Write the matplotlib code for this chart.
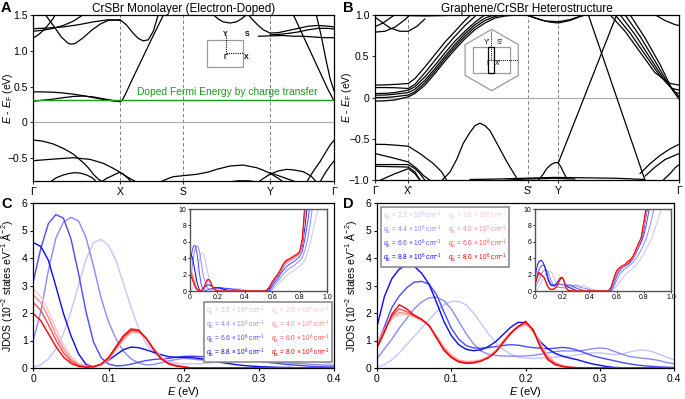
import matplotlib
matplotlib.use("Agg")
import matplotlib.pyplot as plt
from matplotlib.lines import Line2D
from matplotlib.patches import Rectangle, Polygon

plt.rcParams['font.family'] = ['Liberation Sans', 'DejaVu Sans']
plt.rcParams['mathtext.fontset'] = 'custom'
plt.rcParams['mathtext.rm'] = 'Liberation Sans'
plt.rcParams['mathtext.it'] = 'Liberation Sans:italic'
plt.rcParams['axes.linewidth'] = 0.9
plt.rcParams['xtick.major.size'] = 2.5
plt.rcParams['ytick.major.size'] = 2.5
plt.rcParams['xtick.major.width'] = 0.8
plt.rcParams['ytick.major.width'] = 0.8

W, H = 685, 399

# ---------------- band structure A: CrSBr monolayer ----------------
A_KTICKS = [0, 0.867, 1.497, 2.367, 3.01]
A_KLABELS = ['Γ', 'X', 'S', 'Y', 'Γ']
A_FERMI = 0.315

A_BANDS = [
    ([0, 0.1, 0.2, 0.3, 0.4, 0.5, 0.6, 0.7, 0.8, 0.867, 0.89, 0.92, 0.96, 1.0, 1.1, 1.2, 1.31],
     [0.426, 0.425, 0.421, 0.41, 0.394, 0.372, 0.347, 0.32, 0.30, 0.29, 0.31, 0.39, 0.51, 0.63, 0.92, 1.21, 1.52]),
    ([0, 0.1, 0.2, 0.3, 0.4, 0.5, 0.6, 0.7, 0.8, 0.867],
     [0.296, 0.31, 0.325, 0.345, 0.362, 0.368, 0.355, 0.33, 0.305, 0.29]),
    ([0, 0.05, 0.1, 0.15, 0.2, 0.22], [1.176, 1.22, 1.28, 1.36, 1.45, 1.5]),
    ([0, 0.15, 0.3, 0.45, 0.6, 0.75, 0.867], [1.305, 1.315, 1.33, 1.36, 1.40, 1.43, 1.42]),
    ([0, 0.1, 0.2, 0.3, 0.4, 0.5], [1.27, 1.285, 1.31, 1.35, 1.41, 1.5]),
    ([0.12, 0.2, 0.28, 0.35, 0.383, 0.42, 0.5, 0.58, 0.67, 0.75, 0.867],
     [1.5, 1.35, 1.19, 1.10, 1.09, 1.10, 1.18, 1.28, 1.37, 1.42, 1.43]),
    ([0.867, 0.93, 1.0, 1.05, 1.1, 1.15, 1.2, 1.25], [1.43, 1.36, 1.24, 1.17, 1.135, 1.15, 1.27, 1.5]),
    ([1.8, 1.85, 1.9, 1.967, 2.03, 2.08, 2.133], [1.5, 1.44, 1.40, 1.384, 1.40, 1.44, 1.5]),
    ([2.15, 2.2, 2.25, 2.3, 2.367, 2.45, 2.55, 2.65, 2.75, 2.85, 2.95, 3.01],
     [1.5, 1.42, 1.35, 1.29, 1.245, 1.25, 1.28, 1.31, 1.34, 1.35, 1.34, 1.33]),
    ([2.367, 2.45, 2.55, 2.65, 2.75, 2.85, 2.95, 3.01], [1.22, 1.225, 1.24, 1.26, 1.29, 1.31, 1.31, 1.30]),
    ([2.25, 2.367, 2.5, 2.6, 2.7, 2.8, 2.9, 3.01], [1.20, 1.205, 1.21, 1.20, 1.20, 1.19, 1.18, 1.18]),
    ([2.6, 2.7, 2.8, 2.9, 2.95, 3.0, 3.01], [1.5, 1.2, 0.9, 0.6, 0.45, 0.32, 0.31]),
    ([2.83, 2.88, 2.93, 2.97, 3.01], [1.5, 1.2, 0.85, 0.6, 0.43]),
    ([0, 0.1, 0.2, 0.3, 0.4, 0.5, 0.55, 0.6, 0.65, 0.7],
     [-0.245, -0.262, -0.30, -0.361, -0.44, -0.56, -0.63, -0.72, -0.79, -0.83]),
    ([0, 0.167, 0.4, 0.567, 0.7, 0.8, 0.867, 0.933, 1.033],
     [-0.532, -0.514, -0.491, -0.514, -0.569, -0.639, -0.694, -0.755, -0.83]),
    ([0.167, 0.23, 0.3, 0.36, 0.417, 0.47, 0.533, 0.59, 0.633],
     [-0.83, -0.77, -0.731, -0.71, -0.699, -0.705, -0.731, -0.77, -0.83]),
    ([0.68, 0.73, 0.77, 0.82, 0.867, 0.9, 0.95, 0.98], [-0.83, -0.78, -0.755, -0.72, -0.694, -0.72, -0.78, -0.83]),
    ([1.267, 1.35, 1.4, 1.497, 1.633, 1.75, 1.833, 1.967, 2.1, 2.233, 2.3, 2.367, 2.45, 2.5],
     [-0.83, -0.78, -0.755, -0.741, -0.722, -0.69, -0.653, -0.606, -0.593, -0.63, -0.665, -0.708, -0.778, -0.83]),
    ([2.25, 2.3, 2.367, 2.45, 2.533, 2.6, 2.7, 2.78, 2.833],
     [-0.83, -0.78, -0.72, -0.675, -0.653, -0.66, -0.685, -0.75, -0.83]),
    ([2.367, 2.45, 2.55, 2.63], [-0.70, -0.74, -0.79, -0.83]),
    ([2.733, 2.8, 2.867, 2.93, 2.97, 3.01], [-0.83, -0.68, -0.546, -0.40, -0.31, -0.245]),
    ([2.867, 2.92, 2.97, 3.01], [-0.83, -0.70, -0.60, -0.532]),
    ([1.95, 2.05, 2.15, 2.25], [-0.83, -0.812, -0.812, -0.83]),
]

# ---------------- band structure B: graphene/CrSBr ----------------
B_KTICKS = [0, 0.333, 1.527, 1.833, 3.04]
B_KLABELS = ['Γ', "X'", "S'", 'Y', 'Γ']

B_BANDS = [
    ([0, 0.1, 0.2, 0.333, 0.4, 0.5, 0.6, 0.7, 0.8, 0.9, 0.96],
     [0.15, 0.152, 0.158, 0.169, 0.23, 0.37, 0.52, 0.67, 0.80, 0.93, 1.0]),
    ([0, 0.1, 0.2, 0.333, 0.4, 0.5, 0.6, 0.7, 0.8, 0.9, 1.0],
     [0.12, 0.12, 0.118, 0.109, 0.16, 0.30, 0.45, 0.60, 0.74, 0.87, 0.98]),
    ([0, 0.1, 0.2, 0.333, 0.4, 0.5, 0.6, 0.7, 0.8, 0.9, 1.0, 1.1],
     [0.048, 0.05, 0.06, 0.089, 0.13, 0.25, 0.39, 0.54, 0.68, 0.80, 0.91, 1.0]),
    ([0, 0.1, 0.2, 0.333, 0.4, 0.5, 0.6, 0.7, 0.8, 0.9, 1.0, 1.1, 1.2],
     [0.028, 0.03, 0.04, 0.06, 0.10, 0.21, 0.35, 0.50, 0.64, 0.77, 0.88, 0.96, 1.0]),
    ([0, 0.1, 0.2, 0.333, 0.4, 0.5, 0.6, 0.7, 0.8, 0.9, 1.0, 1.1, 1.2, 1.3],
     [0.0, 0.0, 0.01, 0.03, 0.07, 0.18, 0.32, 0.47, 0.61, 0.74, 0.85, 0.93, 0.98, 1.0]),
    ([0, 0.1, 0.2, 0.333, 0.4, 0.5, 0.6, 0.7, 0.8, 0.9, 1.0, 1.1, 1.2, 1.3, 1.4, 1.527, 1.65, 1.75, 1.833, 1.95, 2.1],
     [-0.044, -0.04, -0.03, 0.008, 0.05, 0.15, 0.29, 0.44, 0.58, 0.71, 0.82, 0.90, 0.96, 0.985, 0.995, 0.995,
      0.94, 0.91, 0.90, 0.93, 1.0]),
    ([1.5, 1.6, 1.7, 1.833, 1.95, 2.05, 2.12], [1.0, 0.96, 0.925, 0.915, 0.94, 0.98, 1.0]),
    ([0, 0.1, 0.2, 0.3, 0.35], [0.79, 0.80, 0.85, 0.94, 1.0]),
    ([0, 0.08, 0.15, 0.2], [0.855, 0.90, 0.96, 1.0]),
    ([0, 0.08, 0.15, 0.25, 0.333, 0.42, 0.5], [0.97, 0.90, 0.84, 0.80, 0.80, 0.86, 0.95]),
    ([0.3, 0.5, 0.7, 0.9], [0.99, 0.985, 0.99, 1.0]),
    ([1.833, 1.9, 2.0, 2.1, 2.2, 2.3, 2.42], [-0.79, -0.585, -0.28, 0.027, 0.334, 0.641, 1.01]),
    ([2.133, 2.25, 2.4, 2.55, 2.7], [1.0, 0.59, 0.06, -0.47, -1.0]),
    ([2.35, 2.5, 2.65, 2.8, 2.95, 3.04], [1.0, 0.80, 0.55, 0.30, 0.17, 0.15]),
    ([2.4, 2.55, 2.7, 2.85, 2.97, 3.04], [1.0, 0.78, 0.52, 0.26, 0.11, 0.09]),
    ([2.45, 2.6, 2.75, 2.9, 3.0, 3.04], [1.0, 0.76, 0.48, 0.20, 0.06, 0.05]),
    ([2.5, 2.65, 2.8, 2.93, 3.04], [1.0, 0.74, 0.44, 0.17, 0.01]),
    ([2.55, 2.7, 2.85, 2.97, 3.04], [1.0, 0.72, 0.40, 0.10, -0.02]),
    ([2.8, 2.9, 3.0, 3.04], [1.0, 0.93, 0.88, 0.87]),
    ([0.67, 0.75, 0.82, 0.88, 0.95, 1.0, 1.05, 1.1, 1.15, 1.22, 1.32, 1.43],
     [-1.0, -0.90, -0.74, -0.56, -0.42, -0.34, -0.31, -0.34, -0.40, -0.556, -0.78, -1.0]),
    ([1.633, 1.68, 1.717, 1.76, 1.8, 1.833, 1.86, 1.883, 1.917],
     [-1.0, -0.93, -0.859, -0.81, -0.786, -0.79, -0.84, -0.90, -0.98]),
    ([0, 0.1, 0.2, 0.333, 0.45, 0.583, 0.667, 0.717],
     [-0.565, -0.567, -0.575, -0.589, -0.677, -0.798, -0.899, -1.0]),
    ([0, 0.15, 0.333, 0.42, 0.483, 0.55], [-0.677, -0.72, -0.778, -0.86, -0.94, -1.0]),
    ([0, 0.15, 0.333, 0.4, 0.45, 0.5], [-0.81, -0.81, -0.81, -0.86, -0.92, -1.0]),
    ([0, 0.15, 0.333, 0.4, 0.45], [-0.83, -0.835, -0.84, -0.9, -1.0]),
    ([0.05, 0.2, 0.333, 0.4, 0.45], [-1.0, -0.92, -0.86, -0.92, -1.0]),
    ([0.95, 1.2, 1.5, 1.8, 2.1, 2.4, 2.7], [-0.99, -0.985, -0.975, -0.965, -0.97, -0.975, -0.99]),
    ([1.3, 1.5, 1.8, 2.0], [-1.0, -0.985, -0.975, -0.985]),
    ([2.65, 2.75, 2.85, 2.95, 3.04], [-0.92, -0.80, -0.70, -0.62, -0.565]),
    ([2.7, 2.8, 2.9, 3.04], [-0.95, -0.84, -0.75, -0.677]),
    ([2.88, 2.95, 3.0, 3.04], [-1.0, -0.92, -0.85, -0.81]),
]

# ---------------- JDOS ----------------
E_LO = [round(0.01 * i, 2) for i in range(41)]
E_HI = [0.45, 0.50, 0.54, 0.56, 0.58, 0.60, 0.62, 0.64, 0.66, 0.68, 0.70, 0.72,
        0.74, 0.76, 0.78, 0.80, 0.82, 0.84, 0.86, 0.88, 0.90, 0.92, 0.94, 0.96]

QB_LABELS = ['2.2', '4.4', '6.6', '8.8']
QA_LABELS = ['2.0', '4.0', '6.0', '8.0']
BLUES = ['#c4c4ff', '#8a8aff', '#4a4aff', '#0a0af0']
REDS = ['#ffc4c4', '#ff8c8c', '#ff4c4c', '#f00000']

Z = [0] * 20

C_B1 = [0.03, 0.12, 0.33, 0.70, 1.25, 2.05, 3.00, 3.95, 4.55, 4.68, 4.45,
        3.90, 3.05, 2.20, 1.45, 0.88, 0.55, 0.35, 0.23, 0.17, 0.15,
        0.15, 0.15, 0.17, 0.20, 0.23, 0.25, 0.27, 0.28, 0.27, 0.25,
        0.24, 0.25, 0.27, 0.30, 0.31, 0.30, 0.27, 0.22, 0.17, 0.12]
C_B2 = [1.00, 2.05, 3.55, 4.72, 5.30, 5.48, 5.35, 4.75, 3.70, 2.55, 1.68,
        1.05, 0.60, 0.33, 0.18, 0.11, 0.13, 0.19, 0.26, 0.31, 0.35,
        0.33, 0.30, 0.28, 0.28, 0.29, 0.30, 0.31, 0.32, 0.31, 0.28,
        0.25, 0.22, 0.20, 0.18, 0.16, 0.15, 0.13, 0.12, 0.10, 0.08]
C_B3 = [3.15, 4.35, 5.25, 5.58, 5.45, 4.70, 3.45, 2.05, 0.95, 0.38, 0.14,
        0.08, 0.09, 0.14, 0.21, 0.27, 0.31, 0.33, 0.35, 0.39, 0.42,
        0.43, 0.42, 0.40, 0.38, 0.35, 0.33, 0.31, 0.30, 0.28, 0.25,
        0.21, 0.18, 0.15, 0.12, 0.10, 0.08, 0.06, 0.05, 0.04, 0.03]
C_B4 = [4.56, 4.42, 3.92, 2.97, 1.99, 1.18, 0.52, 0.13, 0.04, 0.12, 0.28,
        0.48, 0.67, 0.76, 0.74, 0.66, 0.57, 0.48, 0.41, 0.39, 0.39,
        0.38, 0.35, 0.30, 0.25, 0.20, 0.16, 0.12, 0.09, 0.07, 0.05,
        0.04, 0.03, 0.02, 0.02, 0.01, 0.01, 0.01, 0.01, 0.01, 0.01]
C_R1 = [2.86, 2.60, 2.08, 1.42, 0.85, 0.42, 0.17, 0.07, 0.05, 0.11, 0.30,
        0.66, 1.03, 1.27, 1.29, 1.08, 0.72, 0.40, 0.20, 0.10, 0.05] + Z
C_R2 = [2.66, 2.38, 1.85, 1.22, 0.70, 0.33, 0.13, 0.05, 0.05, 0.12, 0.32,
        0.70, 1.08, 1.32, 1.32, 1.08, 0.70, 0.37, 0.18, 0.09, 0.05] + Z
C_R3 = [2.38, 2.10, 1.58, 1.02, 0.56, 0.25, 0.09, 0.04, 0.05, 0.13, 0.35,
        0.74, 1.13, 1.37, 1.35, 1.08, 0.68, 0.35, 0.16, 0.08, 0.04] + Z
C_R4 = [1.98, 1.72, 1.25, 0.78, 0.40, 0.17, 0.06, 0.03, 0.05, 0.14, 0.38,
        0.78, 1.18, 1.42, 1.38, 1.08, 0.66, 0.33, 0.15, 0.07, 0.04] + Z

C_B1_HI = [0.03, 0, 0, 0, 0, 0.1, 0.5, 0.8, 1.1, 1.5, 1.8, 2.1, 2.3, 2.5, 2.8, 3.0, 3.3, 3.8, 4.8, 6.0, 7.5, 9.0, 10.5, 12]
C_B2_HI = [0, 0, 0, 0, 0, 0.3, 0.8, 1.2, 1.6, 2.0, 2.4, 2.7, 2.9, 3.1, 3.4, 3.7, 4.1, 5.0, 6.5, 8.5, 11, 12, 12, 12]
C_B3_HI = [0, 0, 0, 0, 0.1, 0.6, 1.1, 1.5, 2.0, 2.5, 2.9, 3.2, 3.4, 3.6, 3.9, 4.2, 4.8, 6.5, 8.5, 11, 12, 12, 12, 12]
C_B4_HI = [0, 0, 0, 0.05, 0.3, 0.9, 1.4, 1.8, 2.3, 2.9, 3.4, 3.6, 3.8, 4.0, 4.3, 4.6, 5.5, 8.0, 11, 12, 12, 12, 12, 12]
C_R1_HI = [0, 0, 0, 0.1, 0.45, 1.0, 1.5, 1.9, 2.4, 3.0, 3.4, 3.6, 3.8, 4.0, 4.2, 4.5, 5.8, 9.5, 12, 12, 12, 12, 12, 12]
C_R2_HI = [0, 0, 0, 0.1, 0.5, 1.05, 1.55, 1.95, 2.5, 3.1, 3.5, 3.7, 3.9, 4.1, 4.3, 4.6, 6.0, 10, 12, 12, 12, 12, 12, 12]
C_R3_HI = [0, 0, 0, 0.1, 0.5, 1.1, 1.6, 2.0, 2.6, 3.2, 3.6, 3.8, 4.0, 4.2, 4.4, 4.7, 6.2, 10.5, 12, 12, 12, 12, 12, 12]
C_R4_HI = [0, 0, 0, 0.1, 0.5, 1.1, 1.6, 2.0, 2.6, 3.3, 3.7, 3.9, 4.1, 4.3, 4.5, 4.8, 6.5, 11, 12, 12, 12, 12, 12, 12]

D_B1 = [0.02, 0.12, 0.30, 0.55, 0.85, 1.15, 1.45, 1.75, 2.05, 2.30, 2.42,
        2.42, 2.30, 2.00, 1.62, 1.25, 0.92, 0.68, 0.50, 0.40, 0.36,
        0.35, 0.36, 0.38, 0.40, 0.42, 0.44, 0.48, 0.52, 0.55, 0.55,
        0.52, 0.48, 0.50, 0.58, 0.64, 0.65, 0.60, 0.50, 0.40, 0.30]
D_B2 = [0.33, 0.70, 1.05, 1.45, 1.80, 2.15, 2.40, 2.55, 2.58, 2.45, 2.15,
        1.70, 1.25, 0.88, 0.62, 0.50, 0.46, 0.44, 0.43, 0.43, 0.44,
        0.46, 0.50, 0.55, 0.60, 0.62, 0.62, 0.62, 0.65, 0.70, 0.73,
        0.70, 0.60, 0.50, 0.42, 0.38, 0.35, 0.32, 0.27, 0.20, 0.15]
D_B3 = [0.85, 1.50, 2.20, 2.62, 2.92, 3.12, 3.15, 3.05, 2.68, 2.05, 1.45,
        1.05, 0.82, 0.73, 0.72, 0.74, 0.78, 0.82, 0.85, 0.83, 0.78,
        0.74, 0.72, 0.70, 0.72, 0.75, 0.72, 0.65, 0.55, 0.45, 0.38,
        0.32, 0.26, 0.20, 0.15, 0.11, 0.08, 0.06, 0.04, 0.03, 0.02]
D_B4 = [1.50, 2.60, 3.25, 3.60, 3.73, 3.70, 3.45, 3.05, 2.40, 1.70, 1.18,
        0.85, 0.68, 0.63, 0.66, 0.78, 0.96, 1.22, 1.48, 1.66, 1.65,
        1.35, 0.95, 0.70, 0.53, 0.43, 0.36, 0.30, 0.22, 0.15, 0.10,
        0.05, 0.02, 0.01, 0, 0, 0, 0, 0, 0, 0]
D_R1 = [0.86, 1.42, 1.80, 1.93, 1.93, 1.85, 1.72, 1.53, 1.18, 0.78, 0.50,
        0.30, 0.25, 0.26, 0.30, 0.42, 0.65, 1.00, 1.28, 1.48, 1.55,
        1.40, 0.90, 0.45, 0.20, 0.10, 0.04, 0.01, 0, 0, 0,
        0, 0, 0, 0, 0, 0, 0, 0, 0, 0]
D_R2 = [0.82, 1.40, 1.85, 2.02, 1.98, 1.88, 1.75, 1.55, 1.15, 0.72, 0.45,
        0.27, 0.22, 0.23, 0.28, 0.40, 0.62, 0.97, 1.28, 1.50, 1.60,
        1.40, 0.85, 0.40, 0.18, 0.08, 0.03, 0.01, 0, 0, 0,
        0, 0, 0, 0, 0, 0, 0, 0, 0, 0]
D_R3 = [0.78, 1.35, 1.90, 2.15, 2.05, 1.90, 1.76, 1.55, 1.12, 0.68, 0.40,
        0.24, 0.19, 0.20, 0.26, 0.38, 0.60, 0.95, 1.28, 1.52, 1.65,
        1.40, 0.80, 0.35, 0.15, 0.06, 0.02, 0.01, 0, 0, 0,
        0, 0, 0, 0, 0, 0, 0, 0, 0, 0]
D_R4 = [0.73, 1.30, 1.95, 2.30, 2.15, 1.92, 1.78, 1.55, 1.10, 0.65, 0.38,
        0.22, 0.17, 0.18, 0.25, 0.37, 0.58, 0.92, 1.25, 1.50, 1.70,
        1.40, 0.75, 0.30, 0.12, 0.05, 0.02, 0.01, 0, 0, 0,
        0, 0, 0, 0, 0, 0, 0, 0, 0, 0]

D_B1_HI = [0.12, 0.02, 0, 0, 0.2, 0.6, 1.1, 1.5, 1.9, 2.2, 2.5, 2.8, 3.1, 3.5, 4.0, 4.6, 5.2, 5.8, 6.5, 7.5, 8.5, 9.5, 10.5, 12]
D_B2_HI = [0.02, 0, 0, 0, 0.5, 1.3, 2.0, 2.4, 2.7, 2.9, 3.2, 3.5, 3.9, 4.4, 5.0, 5.7, 6.5, 7.6, 8.9, 10.5, 12, 12, 12, 12]
D_B3_HI = [0, 0, 0, 0.1, 0.9, 1.8, 2.4, 2.8, 3.0, 3.2, 3.5, 3.9, 4.5, 5.2, 5.9, 6.8, 8.2, 10, 11.5, 12, 12, 12, 12, 12]
D_B4_HI = [0, 0, 0, 0.3, 1.3, 2.2, 2.6, 2.9, 3.1, 3.3, 3.6, 4.0, 4.7, 5.5, 6.0, 7.5, 9.5, 11, 12, 12, 12, 12, 12, 12]
D_R1_HI = [0, 0, 0, 0.35, 1.3, 2.2, 2.6, 2.9, 3.1, 3.4, 3.7, 4.0, 4.7, 5.5, 6.2, 7.8, 9.8, 12, 12, 12, 12, 12, 12, 12]
D_R2_HI = [0, 0, 0, 0.4, 1.4, 2.3, 2.7, 3.0, 3.1, 3.5, 3.7, 4.1, 4.8, 5.6, 6.3, 8.0, 10, 12, 12, 12, 12, 12, 12, 12]
D_R3_HI = [0, 0, 0, 0.45, 1.5, 2.4, 2.8, 3.0, 3.2, 3.5, 3.8, 4.2, 4.9, 5.7, 6.4, 8.3, 10.2, 12, 12, 12, 12, 12, 12, 12]
D_R4_HI = [0, 0, 0, 0.5, 1.6, 2.5, 2.8, 3.1, 3.2, 3.6, 3.8, 4.2, 5.0, 5.8, 6.5, 8.5, 10.5, 12, 12, 12, 12, 12, 12, 12]

C_BLUE = [(C_B1, C_B1_HI), (C_B2, C_B2_HI), (C_B3, C_B3_HI), (C_B4, C_B4_HI)]
C_RED = [(C_R1, C_R1_HI), (C_R2, C_R2_HI), (C_R3, C_R3_HI), (C_R4, C_R4_HI)]
D_BLUE = [(D_B1, D_B1_HI), (D_B2, D_B2_HI), (D_B3, D_B3_HI), (D_B4, D_B4_HI)]
D_RED = [(D_R1, D_R1_HI), (D_R2, D_R2_HI), (D_R3, D_R3_HI), (D_R4, D_R4_HI)]


def px_axes(fig, x0, y0, x1, y1):
    return fig.add_axes([x0 / W, 1 - y1 / H, (x1 - x0) / W, (y1 - y0) / H])


def draw_bands(ax, bands, kticks, klabels, ylim, yticks, ylabels, label_x):
    for k, e in bands:
        ax.plot(k, e, color='black', lw=0.9, solid_capstyle='round', zorder=3)
    for kk in kticks[1:-1]:
        ax.axvline(kk, color='#808080', lw=0.7, ls=(0, (3.5, 2.5)), zorder=1)
    ax.axhline(0, color='#b0b0b0', lw=0.9, zorder=1)
    ax.set_xlim(kticks[0], kticks[-1])
    ax.set_ylim(*ylim)
    ax.set_xticks(kticks)
    ax.set_xticklabels(klabels, fontsize=7.5)
    ax.set_yticks(yticks)
    ax.set_yticklabels(ylabels, fontsize=7.5)
    ax.tick_params(pad=1.5, color='#333333')
    ax.set_ylabel(r'$E$ - $E_\mathrm{F}$ (eV)', fontsize=7.5)
    ax.yaxis.set_label_coords(label_x, 0.5)


def draw_jdos(ax, blue, red, main):
    lw = 1.0 if main else 0.7
    for (lo, hi), c in zip(blue, BLUES):
        ax.plot(E_LO + E_HI, lo + hi, color=c, lw=lw)
    for (lo, hi), c in zip(red, REDS):
        ax.plot(E_LO + E_HI, lo + hi, color=c, lw=lw)
    if not main:
        ax.set_xlim(0, 1)
        ax.set_ylim(0, 10)
        ax.set_xticks([0, 0.2, 0.4, 0.6, 0.8, 1.0])
        ax.set_xticklabels(['0', '0.2', '0.4', '0.6', '0.8', '1.0'], fontsize=5)
        ax.set_yticks([0, 2, 4, 6, 8, 10])
        ax.set_yticklabels(['0', '2', '4', '6', '8', '10'], fontsize=5)
        ax.tick_params(length=1.5, pad=1, width=0.6)
        for s in ax.spines.values():
            s.set_color('#555555')
            s.set_linewidth(1.0)
        return
    ax.set_xlim(0, 0.4)
    ax.set_ylim(0, 6)
    ax.set_xticks([0, 0.1, 0.2, 0.3, 0.4])
    ax.set_xticklabels(['0', '0.1', '0.2', '0.3', '0.4'], fontsize=7.5)
    ax.set_yticks(range(7))
    ax.set_yticklabels([str(v) for v in range(7)], fontsize=7.5)
    ax.tick_params(pad=1.5)
    ax.set_xlabel(r'$E$ (eV)', fontsize=8, labelpad=1)
    ax.set_ylabel('JDOS (10$^{-2}$ states eV$^{-1}$ Å$^{-2}$)', fontsize=7.5)
    ax.yaxis.set_label_coords(-0.06, 0.5)


def add_legend(ax, loc, anchor):
    handles = [Line2D([], [], lw=0) for _ in range(8)]
    labels = [r'$q_\mathrm{b}$ = %s × 10$^6$ cm$^{-1}$' % q for q in QB_LABELS] + \
             [r'$q_\mathrm{a}$ = %s × 10$^6$ cm$^{-1}$' % q for q in QA_LABELS]
    leg = ax.legend(handles, labels, ncol=2, loc=loc, bbox_to_anchor=anchor,
                    handlelength=0, handletextpad=0, columnspacing=0.9,
                    labelspacing=0.12, borderpad=0.35, borderaxespad=0,
                    fontsize=4.8, fancybox=False, framealpha=1)
    leg.get_frame().set_edgecolor('#8c8c8c')
    leg.get_frame().set_linewidth(1.2)
    for t, c in zip(leg.get_texts(), BLUES + REDS):
        t.set_color(c)


fig = plt.figure(figsize=(W / 100, H / 100), dpi=100)

# A
axA = px_axes(fig, 33.3, 14.7, 334.3, 181)
draw_bands(axA, A_BANDS, A_KTICKS, A_KLABELS, (-0.815, 1.5),
           [-0.5, 0, 0.5, 1.0, 1.5], ['−0.5', '0', '0.5', '1.0', '1.5'], -0.062)
axA.axhline(A_FERMI, color='#1a9a1a', lw=1.0, zorder=4)
axA.text(1.94, 0.42, 'Doped Fermi Energy by charge transfer', color='#1a9a1a',
         fontsize=7.4, ha='center', va='center')
axA.set_title('CrSBr Monolayer (Electron-Doped)', fontsize=8.5, pad=2)

# B
axB = px_axes(fig, 375, 14.7, 679, 180.3)
draw_bands(axB, B_BANDS, B_KTICKS, B_KLABELS, (-1.0, 1.0),
           [-1.0, -0.5, 0, 0.5, 1.0], ['−1.0', '−0.5', '0', '0.5', '1.0'], -0.07)
axB.set_title('Graphene/CrSBr Heterostructure', fontsize=8.5, pad=2)

# C
axC = px_axes(fig, 33.3, 203, 334.3, 368)
draw_jdos(axC, C_BLUE, C_RED, main=True)
add_legend(axC, 'lower right', (0.993, 0.035))
axCi = px_axes(fig, 190, 209, 327, 291)
draw_jdos(axCi, C_BLUE, C_RED, main=False)

# D
axD = px_axes(fig, 377, 203, 674, 368)
draw_jdos(axD, D_BLUE, D_RED, main=True)
add_legend(axD, 'upper left', (0.012, 0.975))
axDi = px_axes(fig, 535, 209, 671, 291)
draw_jdos(axDi, D_BLUE, D_RED, main=False)

# Brillouin-zone sketches (pixel overlay)
ov = fig.add_axes([0, 0, 1, 1], zorder=10)
ov.set_xlim(0, W)
ov.set_ylim(H, 0)
ov.axis('off')
ov.patch.set_alpha(0)
ov.add_patch(Rectangle((207.3, 40), 36, 27.3, fill=False, ec='#9a9a9a', lw=0.9))
ov.plot([225.7, 225.7], [35, 53.3], color='black', lw=0.8, ls=(0, (1, 1)))
ov.plot([225.7, 243.3], [53.3, 53.3], color='black', lw=0.8, ls=(0, (1, 1)))
for s, x, y in [('Y', 225.7, 34.3), ('S', 246.7, 34.3), ('Γ', 226, 57.5), ('X', 246.7, 57.5)]:
    ov.text(x, y, s, fontsize=5, weight='bold', ha='center', va='center')

hx, hy, r = 491.7, 60.0, 30.7
hex_pts = [(hx, hy - r), (hx + 0.866 * r, hy - r / 2), (hx + 0.866 * r, hy + r / 2),
           (hx, hy + r), (hx - 0.866 * r, hy + r / 2), (hx - 0.866 * r, hy - r / 2)]
ov.add_patch(Polygon(hex_pts, closed=True, fc='white', ec='#9a9a9a', lw=0.9))
ov.add_patch(Rectangle((473.3, 46.7), 36.7, 26.6, fill=False, ec='#9a9a9a', lw=0.9))
ov.add_patch(Rectangle((487.7, 46.7), 6.6, 26.6, fill=False, ec='black', lw=0.9))
ov.plot([491, 491], [30.5, 60], color='black', lw=0.7, ls=(0, (1, 1)))
ov.plot([491, 518.3], [60, 60], color='black', lw=0.7, ls=(0, (1, 1)))
for s, x, y in [("Y'", 486.5, 42.7), ("S'", 500, 42.7), ('Γ', 488, 63.5), ("X'", 497.5, 63.5)]:
    ov.text(x, y, s, fontsize=5, ha='center', va='center')

for s, x, y in [('A', 1, 1), ('B', 343, 1), ('C', 1, 197), ('D', 343, 197)]:
    ov.text(x, y, s, fontsize=10.5, weight='bold', ha='left', va='top')

fig.savefig('out.png', dpi=100)
